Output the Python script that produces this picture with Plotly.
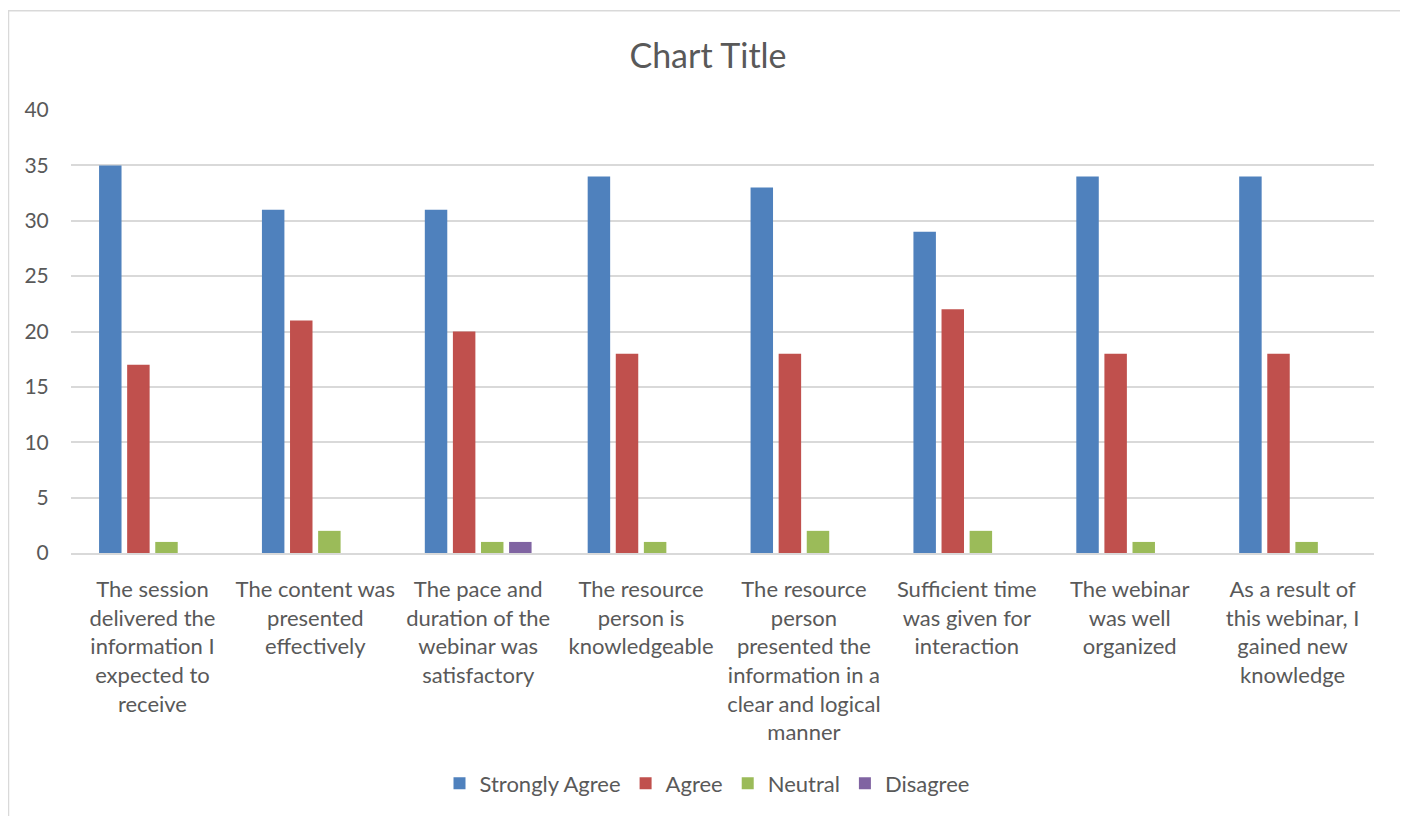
import plotly.graph_objects as go

categories = [
    "The session<br>delivered the<br>information I<br>expected to<br>receive",
    "The content was<br>presented<br>effectively",
    "The pace and<br>duration of the<br>webinar was<br>satisfactory",
    "The resource<br>person is<br>knowledgeable",
    "The resource<br>person<br>presented the<br>information in a<br>clear and logical<br>manner",
    "Sufficient time<br>was given for<br>interaction",
    "The webinar<br>was well<br>organized",
    "As a result of<br>this webinar, I<br>gained new<br>knowledge",
]
strongly_agree = [35, 31, 31, 34, 33, 29, 34, 34]
agree = [17, 21, 20, 18, 18, 22, 18, 18]
neutral = [1, 2, 1, 1, 2, 2, 1, 1]
disagree = [0, 0, 1, 0, 0, 0, 0, 0]

series = [
    ("Strongly Agree", strongly_agree, "#4F81BD"),
    ("Agree", agree, "#C0504D"),
    ("Neutral", neutral, "#9BBB59"),
    ("Disagree", disagree, "#8064A2"),
]

FONT = "Lato"
TXT = "#595959"

fig = go.Figure()
for name, vals, col in series:
    fig.add_trace(go.Bar(x=categories, y=vals, name=name, marker_color=col,
                         marker_line_width=0))

# page has an 8px body margin; figure is sized to fill the rest
O = 8
W, H = 1408 - O, 816 - O
PL, PR, PT, PB = 71, 1374, 110, 556  # plot area in page pixels
L, R, T, B = PL - O, 1408 - PR, PT - O, 816 - PB
pw = PR - PL
ph = PB - PT

def px_x(p):
    return (p - PL) / pw

def px_y(p):
    return (PB - p) / ph

fig.add_shape(type="rect", xref="paper", yref="paper",
              x0=px_x(8.5), x1=px_x(1403), y0=px_y(840), y1=px_y(10),
              line=dict(color="#D9D9D9", width=1.5), fillcolor="rgba(0,0,0,0)",
              layer="below")

fig.update_layout(
    width=W, height=H,
    margin=dict(l=L, r=R, t=T, b=B),
    paper_bgcolor="white", plot_bgcolor="white",
    barmode="group", bargap=0.31, bargroupgap=0.2,
    font=dict(family=FONT, color=TXT, size=22),
    title=dict(text="Chart Title", x=0.5, xanchor="center", y=1 - (56 - O) / H,
               yanchor="middle", font=dict(size=34, color=TXT, family=FONT)),
    legend=dict(orientation="h", x=px_x(707), xanchor="center", y=px_y(788),
                yanchor="middle", font=dict(size=22, color=TXT),
                itemwidth=30, traceorder="normal"),
    showlegend=True,
)
fig.update_yaxes(range=[0, 40], dtick=5, showgrid=True, gridcolor="#D9D9D9",
                 gridwidth=1.5, zeroline=False, showline=False,
                 ticks="outside", ticklen=17, tickcolor="rgba(0,0,0,0)",
                 tickfont=dict(size=21, color=TXT, family=FONT))
fig.update_xaxes(showline=True, linecolor="#D9D9D9", linewidth=1.5,
                 ticks="outside", ticklen=16, tickcolor="rgba(0,0,0,0)",
                 tickangle=0, tickfont=dict(size=22, color=TXT, family=FONT))

fig.write_html("out.html")
